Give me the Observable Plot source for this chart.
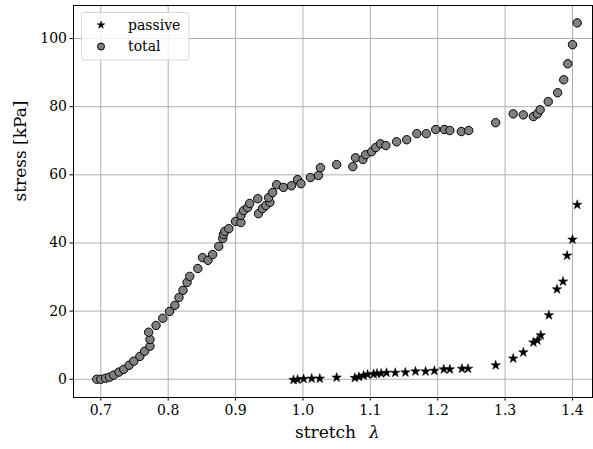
<!DOCTYPE html>
<html>
<head>
<meta charset="utf-8">
<script src="https://cdn.jsdelivr.net/npm/d3@7"></script>
<script src="https://cdn.jsdelivr.net/npm/@observablehq/plot@0.6"></script>
<style>
  html, body { margin: 0; padding: 0; background: #fff; }
  #chart { width: 593px; height: 449px; position: relative; }
</style>
</head>
<body>
<div id="chart"></div>
<script>
const totalStretch = [0.694,0.700,0.707,0.713,0.719,0.727,0.734,0.742,0.749,0.758,
  0.765,0.773,0.773,0.771,0.782,0.792,0.802,0.810,0.816,0.822,
  0.828,0.832,0.844,0.851,0.859,0.866,0.875,0.881,0.882,0.884,
  0.890,0.900,0.908,0.908,0.912,0.918,0.921,0.933,0.934,0.940,
  0.945,0.951,0.949,0.955,0.961,0.971,0.983,0.992,0.997,1.011,
  1.023,1.026,1.050,1.074,1.078,1.089,1.093,1.102,1.108,1.115,
  1.123,1.139,1.154,1.169,1.183,1.197,1.210,1.218,1.235,1.246,
  1.286,1.312,1.327,1.342,1.348,1.352,1.364,1.378,1.387,1.393,
  1.400,1.407];
const totalStress = [0,0,0.3,0.6,1.2,2.1,2.9,4.1,5.3,6.7,
  8.2,9.7,11.7,13.8,15.8,17.9,19.9,21.7,24.0,26.1,
  28.4,30.2,32.5,35.7,34.9,36.6,39.0,41.3,42.5,43.4,
  44.2,46.3,46.0,48.1,49.5,50.4,51.6,53.0,48.6,50.1,
  51.0,51.9,53.3,54.8,57.1,56.3,56.8,58.6,57.4,59.2,
  59.8,62.1,63.0,62.4,65.0,64.5,65.9,66.8,68.0,69.1,
  68.6,69.7,70.3,72.1,72.1,73.3,73.3,73.0,72.7,73.0,
  75.3,77.9,77.6,77.1,77.9,79.1,81.5,84.1,87.9,92.6,
  98.2,104.6];
const passiveStretch = [0.986,0.992,1.001,1.013,1.025,1.050,1.077,1.083,1.090,1.096,
  1.105,1.110,1.116,1.124,1.137,1.152,1.167,1.182,1.195,1.209,
  1.218,1.236,1.245,1.286,1.312,1.327,1.342,1.348,1.353,1.365,
  1.377,1.386,1.392,1.400,1.407];
const passiveStress = [-0.2,-0.1,0.1,0.2,0.2,0.5,0.4,0.7,1.1,1.4,
  1.5,1.7,1.7,1.9,1.9,2.0,2.3,2.3,2.5,2.9,
  2.9,3.1,3.1,4.1,6.1,7.9,10.8,11.4,12.9,18.8,
  26.4,28.7,36.3,41.0,51.2];
const xTicks = [0.7,0.8,0.9,1.0,1.1,1.2,1.3,1.4];
const yTicks = [0,20,40,60,80,100];
const seriesNames = ["passive","total"];
const xLabel = "stretch";
const xLabelSymbol = "λ";
const yLabel = "stress [kPa]";

const total = totalStretch.map((x, i) => ({x, y: totalStress[i]}));
const passive = passiveStretch.map((x, i) => ({x, y: passiveStress[i]}));

const font = "DejaVu Serif";
const chart = Plot.plot({
  width: 593, height: 449,
  marginLeft: 73, marginRight: 1, marginTop: 5, marginBottom: 52,
  style: {fontFamily: font, fontSize: "14px", background: "#fff", color: "#000"},
  x: {domain: [0.6595, 1.4297], label: null},
  y: {domain: [-5.36, 109.7], label: null},
  marks: [
    Plot.gridX(xTicks, {stroke: "#b0b0b0", strokeOpacity: 1, strokeWidth: 1}),
    Plot.gridY(yTicks, {stroke: "#b0b0b0", strokeOpacity: 1, strokeWidth: 1}),
    Plot.dot(passive, {x: "x", y: "y", symbol: "star", fill: "#000", stroke: "#000", strokeWidth: 0.5, r: 3}),
    Plot.dot(total, {x: "x", y: "y", symbol: "circle", fill: "#808080", stroke: "#000", strokeWidth: 1, r: 4.2}),
    Plot.frame({stroke: "#000", strokeWidth: 1}),
    Plot.axisX(xTicks, {tickSize: 3.5, tickPadding: 4, tickFormat: d3.format(".1f"), label: null, fontSize: 14, fontFamily: font, stroke: "#000"}),
    Plot.axisY(yTicks, {tickSize: 3.5, tickPadding: 3, label: null, fontSize: 14, fontFamily: font, stroke: "#000"}),
    Plot.text([xLabel], {frameAnchor: "bottom", textAnchor: "start", dx: -38, dy: 40, fontSize: 17, fontFamily: font, fill: "#000"}),
    Plot.text([xLabelSymbol], {frameAnchor: "bottom", textAnchor: "start", dx: 36, dy: 40, fontSize: 17, fontStyle: "italic", fontFamily: font, fill: "#000"}),
    Plot.text([yLabel], {frameAnchor: "left", rotate: -90, dx: -53, fontSize: 17, fontFamily: font, fill: "#000"})
  ]
});
document.getElementById("chart").appendChild(chart);

// legend drawn inside the plot's svg
const svg = d3.select(chart);
const lg = svg.append("g");
lg.append("rect").attr("x", 81.5).attr("y", 12.5).attr("width", 107.5).attr("height", 47.5)
  .attr("rx", 3).attr("fill", "#fff").attr("fill-opacity", 0.8)
  .attr("stroke", "#d6d6d6");
const rows = [{sym: d3.symbolStar, size: Math.PI * 2.4 * 2.4, fill: "#000", stroke: "#000", sw: 0.5},
              {sym: d3.symbolCircle, size: Math.PI * 3.5 * 3.5, fill: "#808080", stroke: "#000", sw: 1}];
rows.forEach((r, i) => {
  const cy = 25 + i * 21.5;
  lg.append("path").attr("d", d3.symbol(r.sym, r.size)()).attr("transform", `translate(101,${cy})`)
    .attr("fill", r.fill).attr("stroke", r.stroke).attr("stroke-width", r.sw);
  lg.append("text").attr("x", 128).attr("y", cy).attr("dy", "0.35em")
    .style("text-anchor", "start").style("font-family", font).style("font-size", "14px")
    .style("fill", "#000").text(seriesNames[i]);
});
</script>
</body>
</html>
